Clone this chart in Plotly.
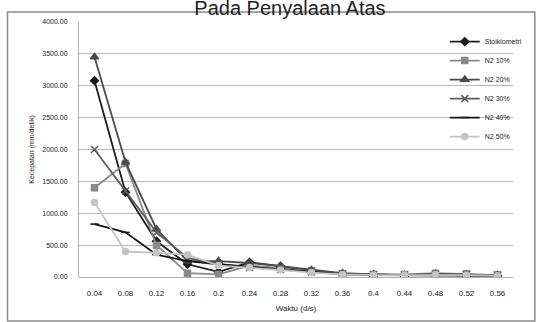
import plotly.graph_objects as go

# Time categories (s) and measured flame speed (mm/detik) per mixture
waktu = ["0.04", "0.08", "0.12", "0.16", "0.2", "0.24", "0.28",
         "0.32", "0.36", "0.4", "0.44", "0.48", "0.52", "0.56"]

stoikiometri = [3080, 1330, 560, 200, 80, 230, 170, 90, 50, 40, 30, 40, 30, 20]
n2_10 = [1400, 1780, 500, 60, 40, 180, 140, 100, 50, 40, 40, 60, 50, 30]
n2_20 = [3450, 1800, 750, 250, 250, 220, 170, 110, 60, 40, 30, 50, 40, 30]
n2_30 = [2000, 1350, 700, 300, 200, 150, 120, 80, 50, 40, 30, 40, 40, 30]
n2_40 = [830, 700, 350, 250, 200, 160, 120, 70, 40, 30, 30, 30, 30, 20]
n2_50 = [1170, 400, 380, 350, 180, 150, 110, 70, 40, 30, 30, 40, 30, 20]

series = [
    ("Stoikiometri", stoikiometri, "#1c1c1c", "diamond", 6),
    ("N2 10%", n2_10, "#8a8a8a", "square", 6),
    ("N2 20%", n2_20, "#4a4a4a", "triangle-up", 7),
    ("N2 30%", n2_30, "#5e5e5e", "x-thin", 7),
    ("N2 40%", n2_40, "#141414", "line-ew", 6),
    ("N2 50%", n2_50, "#c4c4c4", "circle", 6),
]

fig = go.Figure()
for i, (name, vals, color, sym, size) in enumerate(series):
    fig.add_trace(go.Scatter(
        x=waktu, y=vals, name=name, mode="lines+markers",
        line=dict(color=color, width=1.8),
        marker=dict(symbol=sym, size=size, color=color,
                    line=dict(color=color, width=1.5)),
        legendgroup=f"g{i}",
    ))

font_fam = "Liberation Sans, Arial, sans-serif"

fig.update_layout(
    template="none",
    width=540, height=322,
    margin=dict(l=79, r=24, t=22, b=45),
    paper_bgcolor="white", plot_bgcolor="white",
    title=dict(text="Pada Penyalaan Atas", x=0.537, xanchor="center",
               y=1 - 8 / 322, yanchor="middle",
               font=dict(family=font_fam, size=20, color="#222")),
    showlegend=True,
    legend=dict(x=1.034, xanchor="right", y=0.98, yanchor="top",
                bgcolor="rgba(0,0,0,0)", tracegroupgap=0,
                font=dict(family=font_fam, size=7, color="#222"),
                itemwidth=30),
    font=dict(family=font_fam, color="#222"),
)

fig.update_xaxes(
    type="category", range=[-0.5, 13.5],
    showgrid=False, showline=False, ticks="",
    ticklabelstandoff=10,
    tickfont=dict(size=8, color="#222"),
    title=dict(text="Waktu (d/s)", font=dict(size=8, color="#222"), standoff=8),
)
fig.update_yaxes(
    range=[0, 4000], dtick=500, tickformat=".2f",
    showgrid=True, gridcolor="#b8b8b8", gridwidth=1.2,
    showline=True, linecolor="#b0b0b0", linewidth=1,
    zeroline=True, zerolinecolor="#b0b0b0",
    ticks="", ticklabelstandoff=9,
    tickfont=dict(size=7, color="#222"),
    title=dict(text="Kecepatan (mm/detik)", font=dict(size=7, color="#222"), standoff=6),
)

# Outer frame around the chart area
fig.add_shape(type="rect", xref="paper", yref="paper",
              x0=(7 - 79) / 437, x1=(538 - 79) / 437,
              y0=(277 - 321) / 255, y1=(277 - 12) / 255,
              line=dict(color="#8c8c8c", width=1.5), layer="below")

fig.write_html("out.html")
